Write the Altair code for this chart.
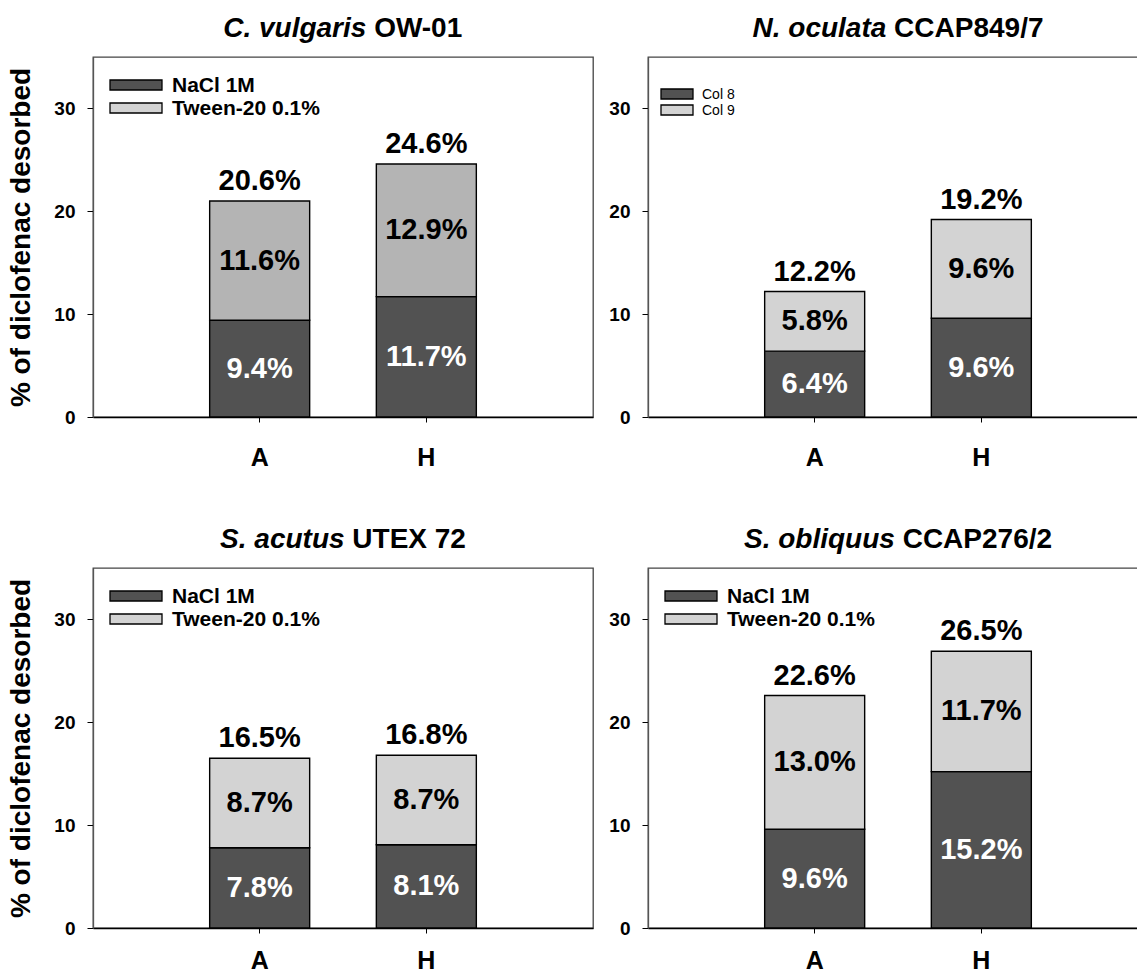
import altair as alt
import pandas as pd

# ---- data -------------------------------------------------------------
categories = ["A", "H"]
series = ["NaCl 1M", "Tween-20 0.1%"]

panel_titles = [
    ("C. vulgaris", "OW-01"),
    ("N. oculata", "CCAP849/7"),
    ("S. acutus", "UTEX 72"),
    ("S. obliquus", "CCAP276/2"),
]

# % of diclofenac desorbed by each solution, per panel, for A and H
nacl_values = [
    [9.4, 11.7],
    [6.4, 9.6],
    [7.8, 8.1],
    [9.6, 15.2],
]
tween_values = [
    [11.6, 12.9],
    [5.8, 9.6],
    [8.7, 8.7],
    [13.0, 11.7],
]
total_values = [
    [20.6, 24.6],
    [12.2, 19.2],
    [16.5, 16.8],
    [22.6, 26.5],
]
legend_labels = [
    series,
    ["Col 8", "Col 9"],
    series,
    series,
]

y_ticks = [0, 10, 20, 30]
y_title = "% of diclofenac desorbed"

# ---- styling ----------------------------------------------------------
FONT = "Liberation Sans"
DARK = "#525252"
LIGHT = "#d3d3d3"
MID = "#b4b4b4"
PANEL_W = 500
PANEL_H = 360
PAGE_W = 1137
PAGE_H = 969
# origin of the first plot area on the page
ORIGIN_X = 93
ORIGIN_Y = 57

# Arial-bold advance widths (per 1000 em) used to centre the two-style titles
CHAR_W = {
    " ": 278, ".": 278, "-": 333, "/": 278, "%": 889,
    "A": 722, "C": 722, "E": 667, "H": 722, "N": 722, "O": 778, "P": 667,
    "S": 667, "T": 611, "U": 722, "W": 944, "X": 667,
    "a": 556, "b": 611, "c": 556, "e": 556, "g": 611, "i": 278, "l": 278,
    "o": 611, "q": 611, "r": 389, "s": 556, "t": 333, "u": 611, "v": 556,
}


def text_width(s, size):
    return sum(CHAR_W.get(ch, 556) for ch in s) * size / 1000.0


def panel(i, with_y_title, x_label_pad):
    rows = []
    for j, cat in enumerate(categories):
        rows.append(dict(cat=cat, series=series[0], order=0,
                         value=nacl_values[i][j], total=total_values[i][j]))
        rows.append(dict(cat=cat, series=series[1], order=1,
                         value=tween_values[i][j], total=total_values[i][j]))
    df = pd.DataFrame(rows)

    upper_fill = MID if i == 0 else LIGHT

    x = alt.X(
        "cat:N",
        title=None,
        scale=alt.Scale(domain=categories, paddingInner=0.4, paddingOuter=0.7),
        axis=alt.Axis(labelAngle=0, labelFont=FONT, labelFontSize=25,
                      labelFontWeight="bold", labelColor="black",
                      tickSize=5, tickColor="black", labelPadding=x_label_pad,
                      domainColor="black", domainWidth=1.5),
    )
    y_axis = alt.Axis(values=y_ticks, format="d", labelFont=FONT,
                      labelFontSize=19, labelFontWeight="bold",
                      labelColor="black", tickSize=6, tickColor="black",
                      labelPadding=12, domainColor="#555", domainWidth=1.3,
                      titleFont=FONT, titleFontSize=28, titleFontWeight="bold",
                      titleColor="black", titlePadding=18)

    stacked = alt.Chart(df).transform_stack(
        stack="value", groupby=["cat"], as_=["lo", "hi"],
        sort=[alt.SortField("order")],
    ).transform_calculate(
        mid="(datum.lo + datum.hi) / 2",
        seg_label="format(datum.value, '.1f') + '%'",
    )

    bars = stacked.mark_bar(stroke="black", strokeWidth=1.4).encode(
        x=x,
        y=alt.Y("lo:Q", title=y_title if with_y_title else None,
                scale=alt.Scale(domain=[0, 35], nice=False), axis=y_axis),
        y2="hi:Q",
        fill=alt.Fill("series:N", legend=None,
                      scale=alt.Scale(domain=series, range=[DARK, upper_fill])),
    )

    seg_text = stacked.mark_text(font=FONT, fontSize=29, fontWeight="bold",
                                 baseline="middle").encode(
        x="cat:N",
        y="mid:Q",
        text="seg_label:N",
        color=alt.Color("series:N", legend=None,
                        scale=alt.Scale(domain=series, range=["white", "black"])),
    )

    total_text = alt.Chart(df).transform_aggregate(
        top="sum(value)", total="max(total)", groupby=["cat"],
    ).transform_calculate(
        lbl="format(datum.total, '.1f') + '%'",
    ).mark_text(font=FONT, fontSize=29, fontWeight="bold", baseline="alphabetic",
                dy=-11, color="black").encode(
        x="cat:N", y="top:Q", text="lbl:N",
    )

    # panel heading: italic species name followed by upright strain code
    ital, plain = panel_titles[i]
    tsize = 28
    w_it = text_width(ital, tsize)
    w_sp = text_width(" ", tsize)
    w_pl = text_width(plain, tsize)
    start = PANEL_W / 2 - (w_it + w_sp + w_pl) / 2
    split = start + w_it
    title_it = alt.Chart(pd.DataFrame({"t": [ital]})).mark_text(
        font=FONT, fontSize=tsize, fontWeight="bold", fontStyle="italic",
        align="right", baseline="alphabetic", color="black",
    ).encode(x=alt.value(split), y=alt.value(-20), text="t:N")
    title_pl = alt.Chart(pd.DataFrame({"t": [plain]})).mark_text(
        font=FONT, fontSize=tsize, fontWeight="bold",
        align="left", baseline="alphabetic", color="black",
    ).encode(x=alt.value(split + w_sp), y=alt.value(-20), text="t:N")

    # in-plot key
    if i == 1:
        sx0, sx1, rows_y, sh, tx, lsize, lweight = 13, 45, [32, 48], 10, 54, 14, "normal"
    else:
        sx0, sx1, rows_y, sh, tx, lsize, lweight = 17, 69, [23, 46], 10, 79, 21, "bold"
    key_layers = []
    for k, (lab, col) in enumerate(zip(legend_labels[i], [DARK, LIGHT])):
        ky = rows_y[k]
        key_layers.append(
            alt.Chart(pd.DataFrame({"t": [lab]})).mark_rect(
                fill=col, stroke="black", strokeWidth=1.3,
            ).encode(x=alt.value(sx0), x2=alt.value(sx1),
                     y=alt.value(ky), y2=alt.value(ky + sh))
        )
        key_layers.append(
            alt.Chart(pd.DataFrame({"t": [lab]})).mark_text(
                font=FONT, fontSize=lsize, fontWeight=lweight, align="left",
                baseline="middle", color="black",
            ).encode(x=alt.value(tx), y=alt.value(ky + sh / 2 + 1), text="t:N")
        )

    return alt.layer(bars, seg_text, total_text, title_it, title_pl,
                     *key_layers).resolve_scale(color="independent", fill="independent").properties(
        width=PANEL_W, height=PANEL_H)


top = alt.hconcat(panel(0, True, 23), panel(1, False, 23), spacing=14)
bottom = alt.hconcat(panel(2, True, 15), panel(3, False, 15), spacing=14)

# fixed page-sized canvas: the right and bottom edges of the figure run off it
chart = alt.vconcat(top, bottom, spacing=54).properties(
    autosize=alt.AutoSizeParams(type="none"),
    padding={"left": ORIGIN_X, "top": ORIGIN_Y,
             "right": PAGE_W - ORIGIN_X, "bottom": PAGE_H - ORIGIN_Y},
).configure_view(
    stroke="#444", strokeWidth=1.3,
).configure_axis(
    grid=False,
)

chart.save("out.html", embed_options={"renderer": "svg", "actions": False})
